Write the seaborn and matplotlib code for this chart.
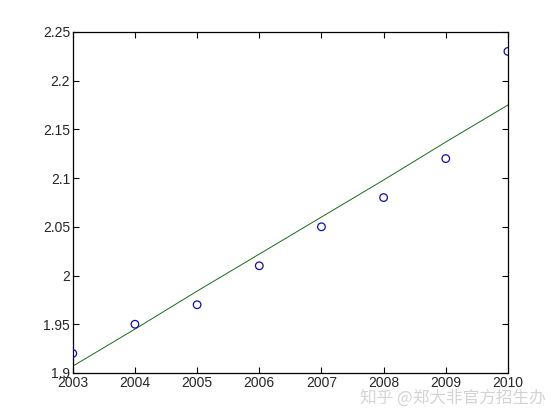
import numpy as np
import pandas as pd
import matplotlib
matplotlib.use('Agg')
import matplotlib.pyplot as plt
import seaborn as sns

years = [2003, 2004, 2005, 2006, 2007, 2008, 2009, 2010]
observed = [1.92, 1.95, 1.97, 2.01, 2.05, 2.08, 2.12, 2.23]
fitted = [1.907, 1.945, 1.984, 2.022, 2.060, 2.098, 2.137, 2.175]
y_ticks = [1.9, 1.95, 2.0, 2.05, 2.1, 2.15, 2.2, 2.25]
y_tick_labels = ['1.9', '1.95', '2', '2.05', '2.1', '2.15', '2.2', '2.25']
watermark = '知乎 @郑大非官方招生办'

df = pd.DataFrame({'year': years, 'observed': observed, 'fitted': fitted})

sns.set_style('ticks')
plt.rcParams['font.family'] = ['Liberation Sans', 'DejaVu Sans']
plt.rcParams['xtick.direction'] = 'in'
plt.rcParams['ytick.direction'] = 'in'

fig = plt.figure(figsize=(5.6, 4.2), dpi=100)
ax = fig.add_axes([0.13, 0.112, 0.777, 0.812])

sns.scatterplot(data=df, x='year', y='observed', ax=ax, marker='o', s=30,
                facecolors='none', edgecolor='#1010a0', linewidth=0.9, zorder=3)
sns.lineplot(data=df, x='year', y='fitted', ax=ax, color='#1a6a1a', linewidth=0.7)

ax.set_xlim(2003, 2010)
ax.set_ylim(1.9, 2.25)
ax.set_xticks(years)
ax.set_xticklabels([str(y) for y in years])
ax.set_yticks(y_ticks)
ax.set_yticklabels(y_tick_labels)
ax.set_xlabel('')
ax.set_ylabel('')
ax.tick_params(axis='both', labelsize=10, length=4, width=0.8, color='black',
               top=True, right=True, pad=2)
for sp in ax.spines.values():
    sp.set_linewidth(0.9)
    sp.set_color('black')

fig.text(0.975, 0.052, watermark, ha='right', va='center', fontsize=12,
         family=['Noto Sans CJK SC', 'DejaVu Sans'], color='#cfcfcf', alpha=0.9)

fig.savefig('out.png', dpi=100)
